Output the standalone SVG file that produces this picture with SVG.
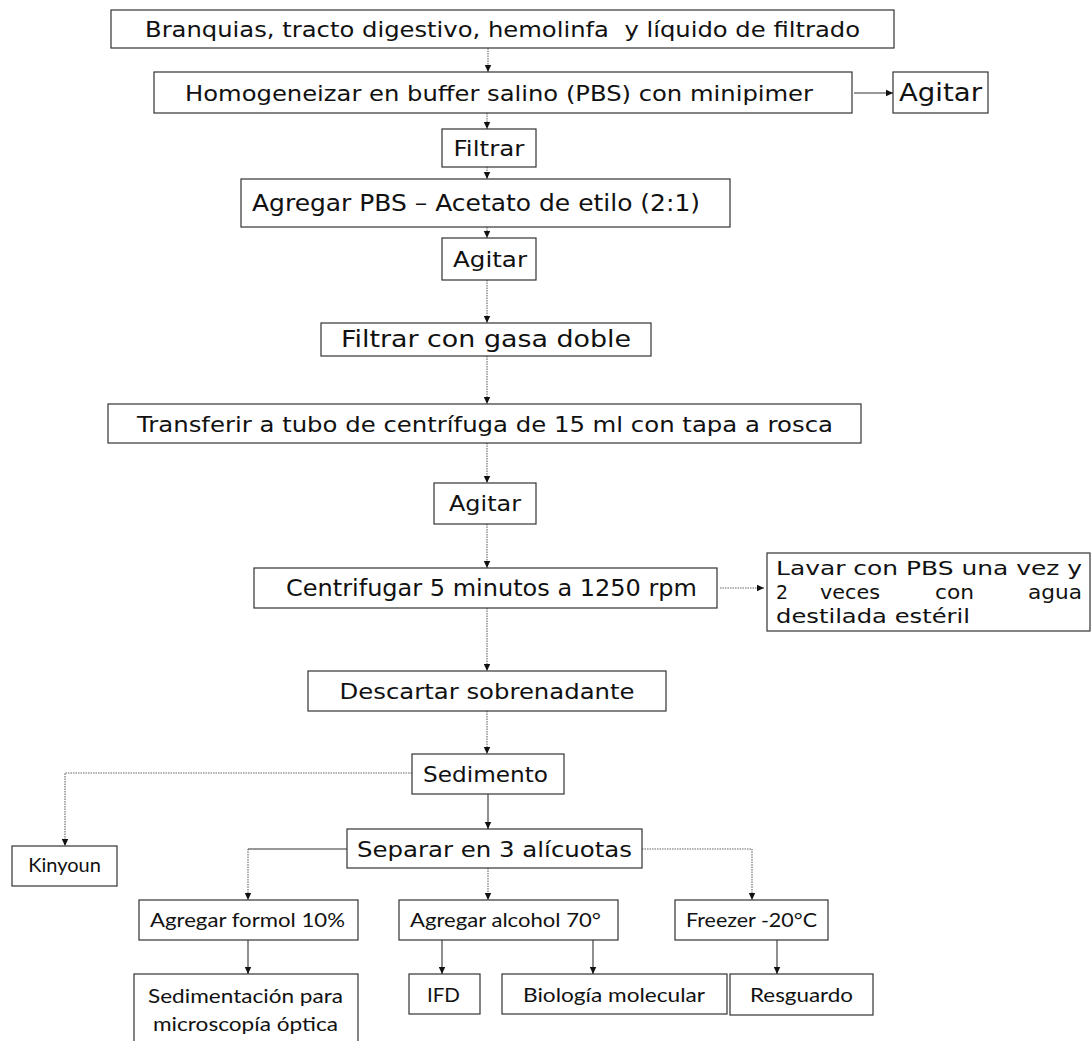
<svg xmlns="http://www.w3.org/2000/svg" width="1092" height="1041" viewBox="0 0 1092 1041">
<defs>
<marker id="ah" markerWidth="8" markerHeight="8" refX="7" refY="4" orient="auto" markerUnits="userSpaceOnUse">
<path d="M0,0.8 L7,4 L0,7.2 z" fill="#111"/>
</marker>
<style>
.box{fill:#fff;stroke:#333;stroke-width:1.2}
.v{font-family:"DejaVu Sans",Verdana,sans-serif;font-size:22px;fill:#111;text-anchor:middle}
.c{font-family:"DejaVu Sans",sans-serif;font-size:23px;fill:#111;text-anchor:middle}
.cl{font-family:"DejaVu Sans",sans-serif;font-size:20px;fill:#111}
.k{font-family:Lato,"Open Sans",sans-serif;font-size:20px;fill:#111;text-anchor:middle}
.dot{fill:none;stroke:#666;stroke-width:1.1;stroke-dasharray:1.5 1}
.sol{fill:none;stroke:#333;stroke-width:1.1}
</style>
</defs>
<rect width="1092" height="1041" fill="#fff"/>
<g id="connectors">
<path class="dot" d="M488,48 V72" marker-end="url(#ah)"/>
<path class="sol" d="M854,93 H893" marker-end="url(#ah)"/>
<path class="dot" d="M487,113 V129" marker-end="url(#ah)"/>
<path class="dot" d="M487,167 V179" marker-end="url(#ah)"/>
<path class="dot" d="M487,227 V238" marker-end="url(#ah)"/>
<path class="dot" d="M487,280 V323" marker-end="url(#ah)"/>
<path class="dot" d="M487,356 V404" marker-end="url(#ah)"/>
<path class="dot" d="M487,443 V483" marker-end="url(#ah)"/>
<path class="dot" d="M487,524 V568" marker-end="url(#ah)"/>
<path class="dot" d="M720,588 H764" marker-end="url(#ah)"/>
<path class="dot" d="M487,608 V671" marker-end="url(#ah)"/>
<path class="dot" d="M487,711 V754" marker-end="url(#ah)"/>
<path class="dot" d="M412,773 H65 V846" marker-end="url(#ah)"/>
<path class="sol" d="M488,794 V829" marker-end="url(#ah)"/>
<path class="sol" d="M347,849 H248"/>
<path class="dot" d="M248,849 V900" marker-end="url(#ah)"/>
<path class="dot" d="M488,868 V900" marker-end="url(#ah)"/>
<path class="dot" d="M642,849 H752 V900" marker-end="url(#ah)"/>
<path class="sol" d="M248,940 V974" marker-end="url(#ah)"/>
<path class="sol" d="M442,940 V974" marker-end="url(#ah)"/>
<path class="sol" d="M593,940 V974" marker-end="url(#ah)"/>
<path class="sol" d="M777,940 V974" marker-end="url(#ah)"/>
</g>
<g id="n1"><rect class="box" x="111" y="10" width="783" height="38"/><text class="v" x="502.5" y="37" xml:space="preserve" textLength="715" lengthAdjust="spacingAndGlyphs">Branquias, tracto digestivo, hemolinfa  y líquido de filtrado</text></g>
<g id="n2"><rect class="box" x="154" y="72" width="698" height="41"/><text class="v" x="499" y="101" textLength="628" lengthAdjust="spacingAndGlyphs">Homogeneizar en buffer salino (PBS) con minipimer</text></g>
<g id="n3"><rect class="box" x="893" y="72" width="95" height="41"/><text class="v" x="940.5" y="101" style="font-size:24px" textLength="83" lengthAdjust="spacingAndGlyphs">Agitar</text></g>
<g id="n4"><rect class="box" x="442" y="129" width="94" height="38"/><text class="v" x="489" y="156" textLength="71" lengthAdjust="spacingAndGlyphs">Filtrar</text></g>
<g id="n5"><rect class="box" x="241" y="179" width="489" height="48"/><text class="v" x="476" y="211" style="font-size:23px" textLength="448" lengthAdjust="spacingAndGlyphs">Agregar PBS – Acetato de etilo (2:1)</text></g>
<g id="n6"><rect class="box" x="442" y="238" width="94" height="42"/><text class="v" x="490" y="267" textLength="74" lengthAdjust="spacingAndGlyphs">Agitar</text></g>
<g id="n7"><rect class="box" x="321" y="323" width="330" height="33"/><text class="c" x="486" y="347" textLength="290" lengthAdjust="spacingAndGlyphs">Filtrar con gasa doble</text></g>
<g id="n8"><rect class="box" x="108" y="404" width="753" height="39"/><text class="v" x="485" y="432" textLength="696" lengthAdjust="spacingAndGlyphs">Transferir a tubo de centrífuga de 15 ml con tapa a rosca</text></g>
<g id="n9"><rect class="box" x="434" y="483" width="102" height="41"/><text class="v" x="485" y="511" textLength="72" lengthAdjust="spacingAndGlyphs">Agitar</text></g>
<g id="n10"><rect class="box" x="254" y="568" width="463" height="40"/><text class="c" x="491.5" y="596" textLength="411" lengthAdjust="spacingAndGlyphs">Centrifugar 5 minutos a 1250 rpm</text></g>
<g id="n11"><rect class="box" x="767" y="553" width="323" height="78"/>
<text class="cl" x="776" y="575" textLength="306" lengthAdjust="spacingAndGlyphs">Lavar con PBS una vez y</text>
<text class="cl" x="776" y="599" textLength="12" lengthAdjust="spacingAndGlyphs">2</text>
<text class="cl" x="820" y="599" textLength="60" lengthAdjust="spacingAndGlyphs">veces</text>
<text class="cl" x="935" y="599" textLength="39" lengthAdjust="spacingAndGlyphs">con</text>
<text class="cl" x="1028" y="599" textLength="54" lengthAdjust="spacingAndGlyphs">agua</text>
<text class="cl" x="776" y="623" textLength="194" lengthAdjust="spacingAndGlyphs">destilada estéril</text></g>
<g id="n12"><rect class="box" x="308" y="671" width="358" height="40"/><text class="v" x="487" y="699" textLength="295" lengthAdjust="spacingAndGlyphs">Descartar sobrenadante</text></g>
<g id="n13"><rect class="box" x="412" y="754" width="152" height="40"/><text class="v" x="485.5" y="782" textLength="125" lengthAdjust="spacingAndGlyphs">Sedimento</text></g>
<g id="n14"><rect class="box" x="12" y="846" width="105" height="40"/><text class="k" x="64.5" y="872">Kinyoun</text></g>
<g id="n15"><rect class="box" x="347" y="829" width="295" height="39"/><text class="v" x="494.5" y="857" textLength="275" lengthAdjust="spacingAndGlyphs">Separar en 3 alícuotas</text></g>
<g id="n16"><rect class="box" x="139" y="900" width="219" height="40"/><text class="k" x="247.5" y="927" textLength="195" lengthAdjust="spacingAndGlyphs">Agregar formol 10%</text></g>
<g id="n17"><rect class="box" x="399" y="900" width="219" height="40"/><text class="k" x="505.5" y="927" textLength="191" lengthAdjust="spacingAndGlyphs">Agregar alcohol 70°</text></g>
<g id="n18"><rect class="box" x="675" y="900" width="153" height="40"/><text class="k" x="751.5" y="927" textLength="131" lengthAdjust="spacingAndGlyphs">Freezer -20°C</text></g>
<g id="n19"><rect class="box" x="134" y="974" width="224" height="80"/><text class="k" x="245.5" y="1003" textLength="195" lengthAdjust="spacingAndGlyphs">Sedimentación para</text><text class="k" x="245.5" y="1031" textLength="185" lengthAdjust="spacingAndGlyphs">microscopía óptica</text></g>
<g id="n20"><rect class="box" x="409" y="974" width="71" height="40"/><text class="k" x="443.5" y="1002" textLength="33" lengthAdjust="spacingAndGlyphs">IFD</text></g>
<g id="n21"><rect class="box" x="502" y="974" width="225" height="40"/><text class="k" x="614" y="1002" textLength="182" lengthAdjust="spacingAndGlyphs">Biología molecular</text></g>
<g id="n22"><rect class="box" x="730" y="974" width="143" height="41"/><text class="k" x="801.5" y="1002" textLength="103" lengthAdjust="spacingAndGlyphs">Resguardo</text></g>
</svg>
